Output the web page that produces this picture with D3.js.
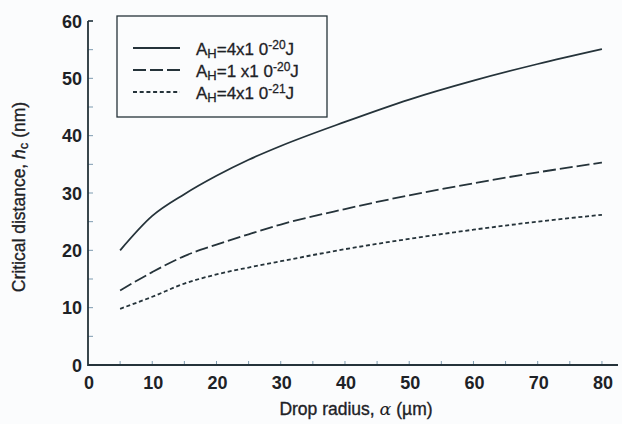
<!DOCTYPE html>
<html>
<head>
<meta charset="utf-8">
<script src="https://cdn.jsdelivr.net/npm/d3@7"></script>
<style>
  body { margin: 0; background: #fbfcfd; }
  svg { display: block; }
  .tick-label { font-family: "Liberation Sans", Arial, sans-serif; font-weight: bold; font-size: 18px; fill: #1e2226; }
  .title { font-family: "Liberation Sans", Arial, sans-serif; font-size: 17.5px; fill: #1e2226; stroke: #1e2226; stroke-width: 0.35px; }
  .legend-text { font-family: "Liberation Sans", Arial, sans-serif; font-size: 17px; fill: #1e2226; stroke: #1e2226; stroke-width: 0.3px; }
</style>
</head>
<body>
<div id="chart"></div>
<script>
// drop radius (um)
var radius = [5, 10, 15, 20, 25, 30, 40, 50, 60, 70, 80];
// critical distance hc (nm) for each Hamaker constant
var hcA4e20 = [20, 26, 29.8, 33, 35.8, 38.2, 42.4, 46.3, 49.6, 52.5, 55.1];
var hcA1e20 = [13, 16.2, 19, 21, 22.8, 24.5, 27.2, 29.6, 31.7, 33.6, 35.3];
var hcA4e21 = [9.8, 11.9, 14.2, 15.8, 17, 18.1, 20.2, 22, 23.6, 25, 26.2];

var xTicks = [0, 10, 20, 30, 40, 50, 60, 70, 80];
var yTicks = [0, 10, 20, 30, 40, 50, 60];
var legendLabels = [
    {base: "4x1 0", exp: "-20"},
    {base: "1 x1 0", exp: "-20"},
    {base: "4x1 0", exp: "-21"}
];

var width = 622, height = 424;
var ink = "#25333a";

var svg = d3.select("#chart").append("svg")
    .attr("width", width)
    .attr("height", height);

var x = d3.scaleLinear().domain([0, 82.5]).range([88, 618]);
var y = d3.scaleLinear().domain([0, 60]).range([365, 21]);

// minor ticks every 5
var xMinor = d3.range(5, 82, 5);
var yMinor = d3.range(5, 61, 5);

svg.selectAll(".xtick").data(xMinor).enter().append("line")
    .attr("x1", function (d) { return x(d); })
    .attr("x2", function (d) { return x(d); })
    .attr("y1", y(0))
    .attr("y2", y(0) - 4)
    .attr("stroke", "#7d9bb0")
    .attr("stroke-width", 1);

svg.selectAll(".ytick").data(yMinor).enter().append("line")
    .attr("x1", x(0))
    .attr("x2", x(0) + 5)
    .attr("y1", function (d) { return y(d); })
    .attr("y2", function (d) { return y(d); })
    .attr("stroke", "#7d9bb0")
    .attr("stroke-width", 1);

// axis lines
svg.append("path")
    .attr("d", "M" + x(0) + "," + y(60) + "V" + y(0) + "H" + x(82.5))
    .attr("fill", "none")
    .attr("stroke", ink)
    .attr("stroke-width", 1.8);

svg.append("line")
    .attr("x1", x(0)).attr("x2", x(0) + 5)
    .attr("y1", y(60)).attr("y2", y(60))
    .attr("stroke", ink).attr("stroke-width", 1.5);

// tick labels
svg.selectAll(".xl").data(xTicks).enter().append("text")
    .attr("class", "tick-label")
    .attr("x", function (d) { return x(d) + 1; })
    .attr("y", y(0) + 24)
    .attr("text-anchor", "middle")
    .text(function (d) { return d; });

svg.selectAll(".yl").data(yTicks).enter().append("text")
    .attr("class", "tick-label")
    .attr("x", x(0) - 6)
    .attr("y", function (d) { return y(d) + 6.5; })
    .attr("text-anchor", "end")
    .text(function (d) { return d; });

// axis titles
var xt = svg.append("text")
    .attr("class", "title")
    .attr("x", 356)
    .attr("y", 415)
    .attr("text-anchor", "middle");
xt.append("tspan").text("Drop radius, ");
xt.append("tspan").attr("font-family", "DejaVu Serif, serif").attr("font-style", "italic").attr("stroke-width", 0).text("α");
xt.append("tspan").text(" (µm)");

var yt = svg.append("text")
    .attr("class", "title")
    .attr("transform", "translate(25,197) rotate(-90)")
    .attr("text-anchor", "middle");
yt.append("tspan").text("Critical distance, ");
yt.append("tspan").attr("font-style", "italic").text("h");
yt.append("tspan").attr("font-size", "13px").attr("dy", 3).text("c");
yt.append("tspan").attr("dy", -3).text(" (nm)");

// curves
var line = d3.line()
    .x(function (d) { return x(d[0]); })
    .y(function (d) { return y(d[1]); })
    .curve(d3.curveMonotoneX);

var series = [
    {values: hcA4e20, dash: null},
    {values: hcA1e20, dash: "13,4"},
    {values: hcA4e21, dash: "4,2.7"}
];

series.forEach(function (s) {
    svg.append("path")
        .datum(radius.map(function (r, i) { return [r, s.values[i]]; }))
        .attr("d", line)
        .attr("fill", "none")
        .attr("stroke", ink)
        .attr("stroke-width", 1.8)
        .attr("stroke-dasharray", s.dash);
});

// legend
var legend = svg.append("g");
legend.append("rect")
    .attr("x", 117).attr("y", 16)
    .attr("width", 210).attr("height", 101)
    .attr("fill", "none")
    .attr("stroke", ink)
    .attr("stroke-width", 1.3);

series.forEach(function (s, i) {
    var ly = 48 + i * 22;
    legend.append("line")
        .attr("x1", 133).attr("x2", 180)
        .attr("y1", ly).attr("y2", ly)
        .attr("stroke", ink)
        .attr("stroke-width", 1.8)
        .attr("stroke-dasharray", s.dash);
    var t = legend.append("text")
        .attr("class", "legend-text")
        .attr("x", 196)
        .attr("y", ly + 7);
    t.append("tspan").text("A");
    t.append("tspan").attr("font-size", "13px").attr("dy", 3).text("H");
    t.append("tspan").attr("dy", -3).text("=" + legendLabels[i].base);
    t.append("tspan").attr("font-size", "12px").attr("dy", -6).text(legendLabels[i].exp);
    t.append("tspan").attr("dy", 6).text("J");
});
</script>
</body>
</html>
